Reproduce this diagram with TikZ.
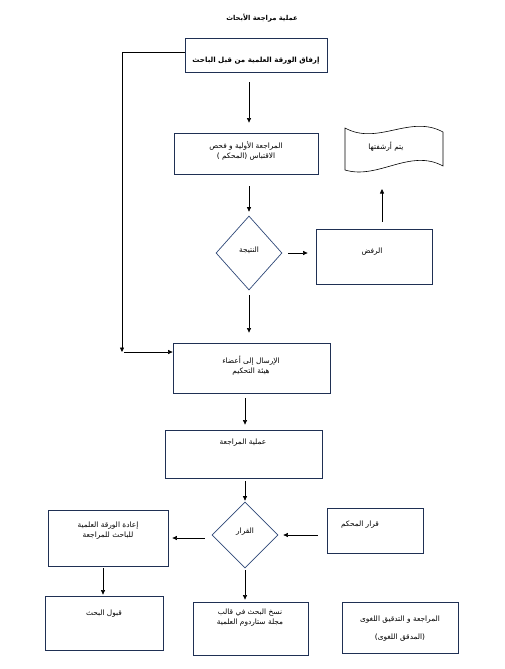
\documentclass[tikz,border=0pt]{standalone}
\usepackage{fontspec}
\newfontfamily\arabicfont[Script=Arabic]{DejaVu Sans}
\TeXXeTstate=1
\usetikzlibrary{arrows.meta,shapes.geometric}
\newcommand\artxt[1]{\beginR #1\endR}
\definecolor{boxcol}{RGB}{31,48,84}
\definecolor{diacol}{RGB}{47,72,120}
\begin{document}
\begin{tikzpicture}[x=1pt,y=-1pt,
  box/.style={draw=boxcol,line width=0.8pt,rectangle,inner sep=0pt},
  dia/.style={draw=diacol,line width=0.7pt,diamond,inner sep=0pt},
  txt/.style={font=\arabicfont\fontsize{7.4}{10}\selectfont,align=center,inner sep=0pt},
  arr/.style={-{Triangle[length=4.5pt,width=4pt]},line width=0.6pt,black}]
\useasboundingbox[fill=white] (0,0) rectangle (504,669);

% title
\node[txt,font=\arabicfont\bfseries\fontsize{6.8}{9}\selectfont] (title) at (262,18) {\artxt{عملية مراجعة الأبحاث}};

% boxes
\node[box,minimum width=142,minimum height=34] (b1) at (256,55) {};
\node[txt,font=\arabicfont\bfseries\fontsize{7.1}{9}\selectfont] (t1) at (256,61) {\artxt{إرفاق الورقة العلمية من قبل الباحث}};

\node[box,minimum width=144,minimum height=41] (b2) at (246,153.5) {};
\node[txt] (t2) at (246,151) {\artxt{المراجعة الأولية و فحص}\\\artxt{الاقتباس (المحكم )}};

\node[dia,minimum width=66,minimum height=74] (d1) at (249,253) {};
\node[txt] (td1) at (249,250) {\artxt{النتيجة}};

\node[box,minimum width=116,minimum height=55] (rej) at (374,256.5) {};
\node[txt] (trej) at (372,252) {\artxt{الرفض}};

% document shape
\draw[draw=black,line width=0.6pt] (345,128) .. controls (378,146) and (410,114) .. (443,132)
  -- (443,166) .. controls (410,148) and (378,180) .. (345,170) -- cycle;
\node[txt] (tdoc) at (386,147) {\artxt{يتم أرشفتها}};
\coordinate (docb) at (382,170);

\node[box,minimum width=157,minimum height=50] (b3) at (251.5,368) {};
\node[txt] (t3) at (251,366) {\artxt{الإرسال إلى أعضاء}\\\artxt{هيئة التحكيم}};

\node[box,minimum width=157,minimum height=48] (b4) at (243.5,454) {};
\node[txt] (t4) at (243,443) {\artxt{عملية المراجعة}};

\node[dia,minimum width=66,minimum height=66] (d2) at (245,535) {};
\node[txt] (td2) at (245,532) {\artxt{القرار}};

\node[box,minimum width=96,minimum height=45] (b5) at (375,530.5) {};
\node[txt] (t5) at (360,525) {\artxt{قرار المحكم}};

\node[box,minimum width=120,minimum height=56] (b6) at (108,538) {};
\node[txt] (t6) at (108,531) {\artxt{إعادة الورقة العلمية}\\\artxt{للباحث للمراجعة}};

\node[box,minimum width=118,minimum height=54] (b7) at (104,623) {};
\node[txt] (t7) at (104,614) {\artxt{قبول البحث}};

\node[box,minimum width=115,minimum height=53] (b8) at (250.5,628.5) {};
\node[txt] (t8) at (250,618) {\artxt{نسخ البحث في قالب}\\\artxt{مجلة ستاردوم العلمية}};

\node[box,minimum width=116,minimum height=51] (b9) at (400,627.5) {};
\node[txt,font=\arabicfont\fontsize{7.4}{18}\selectfont] (t9) at (400,629) {\artxt{المراجعة و التدقيق اللغوى}\\\artxt{(المدقق اللغوى)}};

% connectors
\coordinate (lc) at (122,352);
\draw[arr,shorten <=10pt,shorten >=10pt] (b1.south -| d1.north) -- (b2.north -| d1.north);
\draw[arr,shorten <=12pt,shorten >=4pt] (b2.south -| d1.north) -- (d1.north);
\draw[arr,shorten <=6pt,shorten >=8pt] (d1.east) -- (d1.east -| rej.west);
\draw[arr,shorten <=7pt,shorten >=19pt] (rej.north -| docb) -- (docb);
\draw[arr] ([yshift=3pt]b1.west) -| (lc);
\draw[arr,shorten <=2pt] (lc) -- (lc -| b3.west);
\draw[arr,shorten <=5pt,shorten >=10pt] (d1.south) -- (b3.north -| d1.south);
\draw[arr,shorten <=5pt,shorten >=5pt] (b3.south -| d2.north) -- (b4.north -| d2.north);
\draw[arr,shorten <=3pt,shorten >=1pt] (b4.south -| d2.north) -- (d2.north);
\draw[arr,shorten <=9pt,shorten >=5pt] (b5.west |- d2.east) -- (d2.east);
\draw[arr,shorten <=7pt,shorten >=4pt] ([yshift=-3pt]d2.west) -- ([yshift=-3pt]d2.west -| b6.east);
\draw[arr,shorten <=2pt,shorten >=1pt] ([xshift=-5pt]b6.south) -- ([xshift=-5pt]b6.south |- b7.north);
\draw[arr,shorten <=2pt,shorten >=2pt] (d2.south) -- (b8.north -| d2.south);
\end{tikzpicture}
\end{document}
